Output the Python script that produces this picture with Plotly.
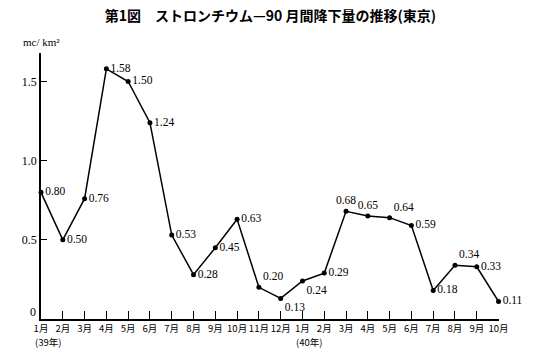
import plotly.graph_objects as go

months = ["1月", "2月", "3月", "4月", "5月", "6月", "7月", "8月", "9月", "10月", "11月", "12月",
          "1月", "2月", "3月", "4月", "5月", "6月", "7月", "8月", "9月", "10月"]
year_notes = {0: "(39年)", 12: "(40年)"}
values = [0.80, 0.50, 0.76, 1.58, 1.50, 1.24, 0.53, 0.28, 0.45, 0.63, 0.20, 0.13,
          0.24, 0.29, 0.68, 0.65, 0.64, 0.59, 0.18, 0.34, 0.33, 0.11]
label_pos = ["middle right", "middle right", "middle right", "middle right", "middle right", "middle right",
             "middle right", "middle right", "middle right", "middle right", "top right", "bottom right",
             "bottom right", "middle right", "top center", "top center", "top right", "middle right",
             "middle right", "top right", "middle right", "middle right"]
y_ticks = [0.5, 1.0, 1.5]
y_tick_text = ["0.5", "1.0", "1.5"]

x = list(range(len(values)))

fig = go.Figure()
fig.add_trace(go.Scatter(
    x=x, y=values, mode="lines+markers+text",
    line=dict(color="black", width=1.5),
    marker=dict(color="black", size=5),
    text=[f"{v:.2f}" for v in values],
    textposition=label_pos,
    textfont=dict(family="Liberation Serif", size=11.5, color="black"),
    cliponaxis=False,
    showlegend=False,
    hoverinfo="skip",
))

annotations = [
    dict(text="mc/ km²", xref="paper", yref="paper", x=0, y=1.0,
         xanchor="center", yanchor="bottom", showarrow=False,
         font=dict(family="Liberation Serif", size=11, color="black"), yshift=3),
    dict(text="0", xref="paper", yref="y", x=0, y=0, xanchor="right", yanchor="bottom",
         showarrow=False, xshift=-3, yshift=-2,
         font=dict(family="Liberation Serif", size=12, color="black")),
]
for idx, note in year_notes.items():
    annotations.append(dict(text=note, xref="x", yref="paper", x=idx, y=0,
                            xanchor="left", yanchor="top", showarrow=False,
                            xshift=-8, yshift=-14,
                            font=dict(family="Noto Sans CJK JP", size=9.5, color="black")))

fig.update_layout(
    width=541, height=356,
    margin=dict(l=41, r=42, t=53, b=37),
    paper_bgcolor="white", plot_bgcolor="white",
    font=dict(family="Liberation Serif", color="black", size=12),
    title=dict(text="<b>第1図　ストロンチウム—90 月間降下量の推移(東京)</b>",
               x=0.5, xanchor="center", y=0.955, yanchor="middle",
               font=dict(family="Noto Sans CJK JP", size=14, color="black")),
    annotations=annotations,
)
fig.update_xaxes(
    range=[0, 21.02], tickmode="array", tickvals=x, ticktext=months, tickangle=0,
    ticks="inside", ticklen=8, tickcolor="black", showline=True, linecolor="black",
    linewidth=1.5, showgrid=False, zeroline=False, automargin=False,
    tickfont=dict(family="Noto Sans CJK JP", size=9.5, color="black"),
)
fig.update_yaxes(
    range=[0, 1.68], tickmode="array", tickvals=y_ticks, ticktext=y_tick_text,
    ticks="inside", ticklen=6, tickcolor="black", showline=True, linecolor="black",
    linewidth=1.5, showgrid=False, zeroline=False, automargin=False,
    tickfont=dict(family="Liberation Serif", size=12, color="black"),
)

fig.write_html("out.html", config={"displayModeBar": False},
               post_script="document.body.style.margin='0';document.body.style.padding='0';")
